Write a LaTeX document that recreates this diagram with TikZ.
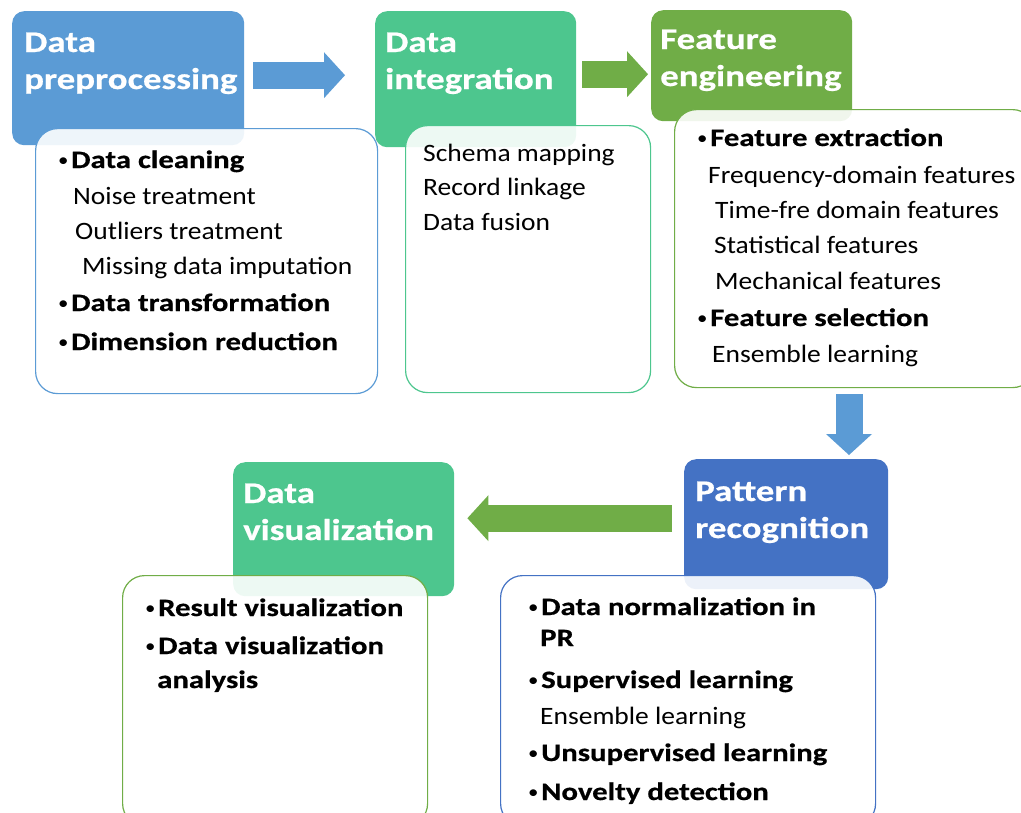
\documentclass[tikz,border=0pt]{standalone}
\usepackage{fontspec}
\setmainfont{Carlito}[UprightFeatures={FakeStretch=1.10},BoldFeatures={FakeStretch=1.23,FakeBold=0.6}]
\usetikzlibrary{arrows.meta}
\usetikzlibrary{calc}
\definecolor{prepblue}{HTML}{5B9BD5}
\definecolor{intgreen}{HTML}{4DC68E}
\definecolor{featgreen}{HTML}{70AD47}
\definecolor{patblue}{HTML}{4472C4}
\newcommand\bold[1]{{\bfseries\fontsize{25}{30}\selectfont#1}}
\newcommand\bul[1]{\makebox[13pt][l]{\raisebox{1.5pt}{\fontsize{19}{19}\selectfont\textbullet}}\bold{#1}}

\begin{document}
\begin{tikzpicture}[x=1pt,y=-1pt,
  head/.style={rectangle,rounded corners=12pt,fill=#1,inner sep=0pt,anchor=north west},
  body/.style={rectangle,rounded corners=22pt,draw=#1,line width=1.2pt,fill=white,
    fill opacity=0.9,inner sep=0pt,anchor=north west},
  headtext/.style={text=white,font=\bfseries\fontsize{30}{36}\selectfont,anchor=base west,inner sep=0pt},
  item/.style={font=\fontsize{25}{30}\selectfont,anchor=base west,inner sep=0pt},
  fat/.style={draw=#1,line width=27pt,-{Triangle[length=21pt,width=46pt,line width=0pt]}}]

\useasboundingbox (0,0) rectangle (1021,812);

\node[head=prepblue,minimum width=232pt,minimum height=134pt] (pre) at (12,11) {};
\node[head=intgreen,minimum width=201pt,minimum height=136pt] (int) at (375,11) {};
\node[head=featgreen,minimum width=201pt,minimum height=111pt] (feat) at (651,10) {};
\node[head=patblue,minimum width=204pt,minimum height=130pt] (pat) at (684,459) {};
\node[head=intgreen,minimum width=221pt,minimum height=134pt] (vis) at (233,462) {};

\node[headtext] (pre1) at (24,52) {Data};
\node[headtext] (pre2) at (24,89) {preprocessing};
\node[headtext] (int1) at (385,52) {Data};
\node[headtext] (int2) at (385,89) {integration};
\node[headtext] (feat1) at (660,49) {Feature};
\node[headtext] (feat2) at (660,86) {engineering};
\node[headtext] (pat1) at (695,501) {Pattern};
\node[headtext] (pat2) at (695,538) {recognition};
\node[headtext] (vis1) at (243,503) {Data};
\node[headtext] (vis2) at (243,540) {visualization};

\node[body=prepblue,minimum width=342pt,minimum height=265pt] (prebody) at (35,128) {};
\node[body=intgreen,minimum width=245pt,minimum height=267pt] (intbody) at (405,125) {};
\node[body=featgreen,minimum width=360pt,minimum height=278pt] (featbody) at (674,109) {};
\node[body=patblue,minimum width=375pt,minimum height=250pt] (patbody) at (500,575) {};
\node[body=featgreen,minimum width=305pt,minimum height=250pt] (visbody) at (122,575) {};

\foreach \x/\y/\t [count=\i] in {58/168/{\bul{Data cleaning}}, 73/204/Noise treatment,
    75/239/Outliers treatment, 82/274/Missing data imputation,
    58/311/{\bul{Data transformation}}, 58/350/{\bul{Dimension reduction}}}
  \node[item] (preitem\i) at (\x,\y) {\t};

\foreach \x/\y/\t [count=\i] in {423/161/Schema mapping, 423/195/Record linkage, 423/230/Data fusion}
  \node[item] (intitem\i) at (\x,\y) {\t};

\foreach \x/\y/\t [count=\i] in {697/146/{\bul{Feature extraction}}, 708/183/Frequency-domain features,
    715/218/Time-fre domain features, 714/253/Statistical features,
    715/289/Mechanical features, 697/326/{\bul{Feature selection}}, 712/362/Ensemble learning}
  \node[item] (featitem\i) at (\x,\y) {\t};

\foreach \x/\y/\t [count=\i] in {528/615/{\bul{Data normalization in}}, 540/646/{\bold{PR}},
    528/688/{\bul{Supervised learning}}, 540/724/Ensemble learning,
    528/761/{\bul{Unsupervised learning}}, 528/800/{\bul{Novelty detection}}}
  \node[item] (patitem\i) at (\x,\y) {\t};

\foreach \x/\y/\t [count=\i] in {145/616/{\bul{Result visualization}}, 145/654/{\bul{Data visualization}},
    157/688/{\bold{analysis}}}
  \node[item] (visitem\i) at (\x,\y) {\t};

\coordinate (drop) at (849,0);

\draw[fat=prepblue,shorten <=9pt,shorten >=30pt] ([yshift=3pt]pre.east) -- ([yshift=3pt]pre.east -| int.west);
\draw[fat=featgreen,shorten <=6pt,shorten >=3pt] ([yshift=5pt]int.east) -- ([yshift=5pt]int.east -| feat.west);
\draw[fat=prepblue,shorten <=6pt,shorten >=4pt] (featbody.south -| drop) -- (pat.north -| drop);
\draw[fat=featgreen,shorten <=12pt,shorten >=13pt] ([yshift=6pt]pat.west) -- ([yshift=6pt]pat.west -| vis.east);

\end{tikzpicture}
\end{document}
